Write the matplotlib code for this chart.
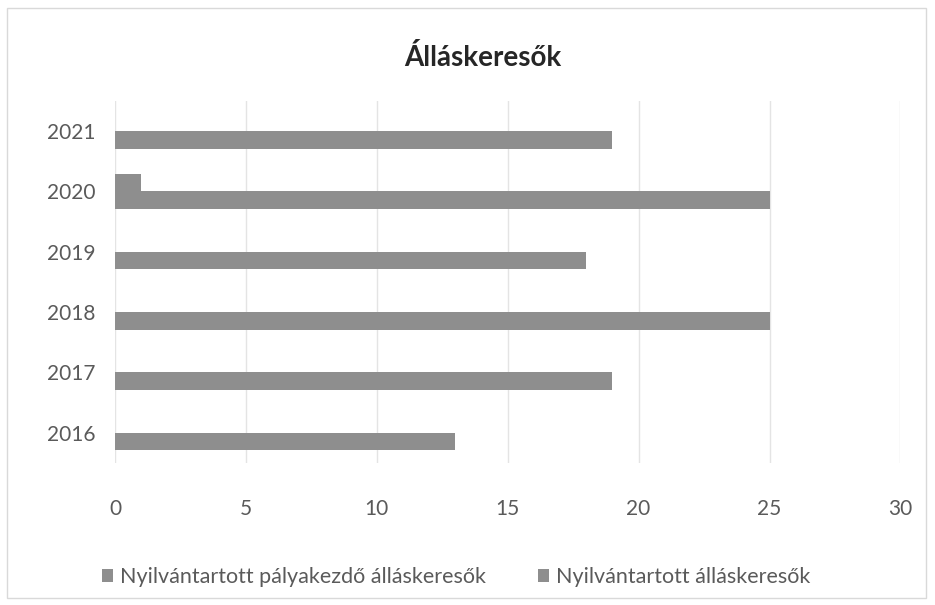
import matplotlib
matplotlib.use("Agg")
import matplotlib.pyplot as plt
from matplotlib.patches import Rectangle
import numpy as np

plt.rcParams["font.family"] = ["Lato", "DejaVu Sans"]

years = ["2016", "2017", "2018", "2019", "2020", "2021"]
palyakezdo = [0, 0, 0, 0, 1, 0]
allaskeresok = [13, 19, 25, 18, 25, 19]
series_labels = ["Nyilvántartott pályakezdő álláskeresők", "Nyilvántartott álláskeresők"]
xticks = [0, 5, 10, 15, 20, 25, 30]

bar_color = "#8e8e8e"
text_color = "#5a5a5a"

fig = plt.figure(figsize=(9.35, 6.05), dpi=100)
ax = fig.add_axes([0.123, 0.235, 0.840, 0.598])

y = np.arange(len(years))
h = 0.29
ax.barh(y + h / 2, palyakezdo, height=h, color=bar_color, label=series_labels[0], zorder=3)
ax.barh(y - h / 2, allaskeresok, height=h, color=bar_color, label=series_labels[1], zorder=3)

ax.set_xlim(0, 30)
ax.set_ylim(-0.5, len(years) - 0.5)
ax.set_xticks(xticks)
ax.set_xticklabels([str(t) for t in xticks], fontsize=15, color=text_color)
ax.set_yticks(y)
ax.set_yticklabels(years, fontsize=15, color=text_color)
ax.tick_params(length=0, pad=14)
ax.tick_params(axis="x", pad=26)
ax.grid(axis="x", color="#e4e4e4", linewidth=1, zorder=0)
for s in ax.spines.values():
    s.set_visible(False)

fig.text(0.516, 0.905, "Álláskeresők", ha="center", va="center",
         fontsize=20, fontweight="bold", color="#262626")

ax.legend(loc="center", bbox_to_anchor=(0.434, -0.315), ncol=2, frameon=False,
          prop={"size": 15.5}, labelcolor=text_color,
          handlelength=0.55, handleheight=0.55, handletextpad=0.3, columnspacing=2.4)

fig.patches.append(Rectangle((0.008, 0.012), 0.982, 0.975, transform=fig.transFigure,
                             fill=False, edgecolor="#d9d9d9", linewidth=1))

fig.savefig("out.png", dpi=100)
